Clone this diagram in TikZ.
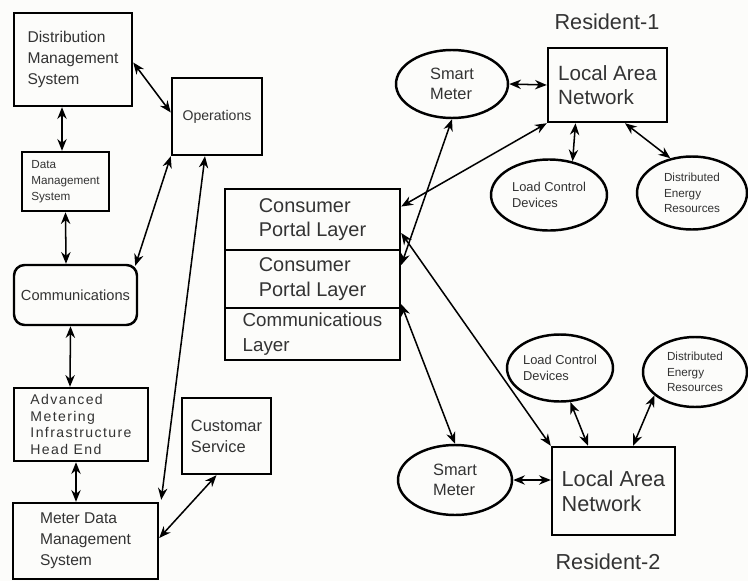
\documentclass[tikz,border=0pt]{standalone}
\usepackage{fontspec}
\setmainfont{Liberation Sans}
\newfontfamily\widesans[LetterSpace=10]{Liberation Sans}
\usetikzlibrary{arrows.meta,shapes.geometric,calc}
\definecolor{textgray}{HTML}{333333}
\definecolor{paper}{HTML}{FCFCFA}
\tikzset{
  boxdims/.style 2 args={minimum width=#1*0.03cm, minimum height=#2*0.03cm},
  fs/.style 2 args={font={\fontsize{#1}{#2}\selectfont}},
  box/.style={draw, line width=2.1pt, inner sep=0pt, align=left, text=textgray},
  oval/.style={ellipse, draw, line width=2.1pt, inner sep=0pt, align=left, text=textgray},
  link/.style={{Stealth[length=10pt,width=8pt]}-{Stealth[length=10pt,width=8pt]}, line width=1.3pt}
}
\begin{document}
\begin{tikzpicture}[x=0.03cm, y=-0.03cm]
    \fill[paper] (0,0) rectangle (748,581);
    \useasboundingbox (0,0) rectangle (748,581);

    \node[box, boxdims={118}{93}, fs={13.3}{18}] (dms) at (73,59.5) {Distribution\\Management\\System};
    \node[box, boxdims={90}{77}, fs={12}{15}] (ops) at (217,116.5) {Operations};
    \node[box, boxdims={87}{59}, fs={10}{13.5}] (datams) at (65.5,181.5) {Data\\Management\\System};
    \node[box, rounded corners=9pt, boxdims={123}{60}, fs={12.5}{15}] (comm) at (75.5,295) {Communications};
    \node[box, boxdims={134}{73}, font={\widesans\fontsize{12}{14}\selectfont}] (ami) at (81,424.5) {Advanced\\Metering\\Infrastructure\\Head End};
    \node[box, boxdims={145}{76}, fs={13.3}{18}] (mdms) at (85.5,541) {Meter Data\\Management\\System};
    \node[box, boxdims={89}{76}, fs={14}{18}] (cust) at (226.5,436) {Customar\\Service};

    \node[box, boxdims={175}{61}, fs={17}{21}] (cpl1) at (312.5,219.5) {Consumer\\Portal Layer};
    \node[box, boxdims={175}{58}, fs={17}{21}] (cpl2) at (312.5,279) {Consumer\\Portal Layer};
    \node[box, boxdims={175}{52}, fs={16}{21}] (comml) at (312.5,334) {Communicatious\\Layer};

    \node[text=textgray, fs={18.5}{22}] (res1) at (607,22) {Resident-1};
    \node[box, boxdims={119}{74}, fs={17.6}{21}] (lan1) at (607.5,85) {Local Area\\Network};
    \node[oval, boxdims={112}{68}, fs={14}{17}] (sm1) at (452,84) {Smart\\Meter};
    \node[oval, boxdims={116}{71}, fs={11}{13}] (lcd1) at (549,195) {Load Control\\Devices};
    \node[oval, boxdims={110}{73}, fs={10}{13}] (der1) at (692,193) {Distributed\\Energy\\Resources};

    \node[oval, boxdims={106}{67}, fs={11}{13}] (lcd2) at (560,368) {Load Control\\Devices};
    \node[oval, boxdims={104}{70}, fs={10}{13}] (der2) at (695,372) {Distributed\\Energy\\Resources};
    \node[oval, boxdims={114}{70}, fs={14}{17}] (sm2) at (455,480) {Smart\\Meter};
    \node[box, boxdims={123}{88}, fs={18.5}{21}] (lan2) at (613.5,491) {Local Area\\Network};
    \node[text=textgray, fs={18.5}{22}] (res2) at (608,562) {Resident-2};

    \path[link]
    ($(dms.east)+(0,3)$) edge ($(ops.west)+(0,-4)$)
    ($(dms.south)+(-11,0)$) edge ($(datams.north)+(-3.5,0)$)
    (datams.south) edge ($(comm.north)+(-9.5,0)$)
    (ops.south west) edge ($(comm.north east)+(-3,2)$)
    ($(ops.south)+(-12,0)$) edge ($(mdms.north east)+(2,-2)$)
    ($(comm.south)+(-5,0)$) edge ($(ami.north)+(-11,0)$)
    ($(ami.south)+(-5,0)$) edge ($(mdms.north)+(-9.5,0)$)
    ($(mdms.east)+(0,-3)$) edge ($(cust.south)+(-10,0)$)
    (sm1.east) edge (lan1.west)
    ($(lan1.south)+(-32,0)$) edge (lcd1.55)
    ($(lan1.south)+(17.5,0)$) edge (der1.122)
    (lan1.south west) edge ($(cpl1.east)+(0,-13)$)
    (sm1.south) edge ($(cpl2.east)+(0,-14)$)
    ($(cpl1.east)+(0,13.5)$) edge (lan2.north west)
    ($(cpl2.south east)+(0,-5)$) edge (sm2.north)
    (lcd2.-73) edge ($(lan2.north)+(-25.5,0)$)
    (der2.-150) edge ($(lan2.north)+(19.5,0)$)
    (sm2.east) edge ($(lan2.west)+(0,-11)$);
\end{tikzpicture}
\end{document}
